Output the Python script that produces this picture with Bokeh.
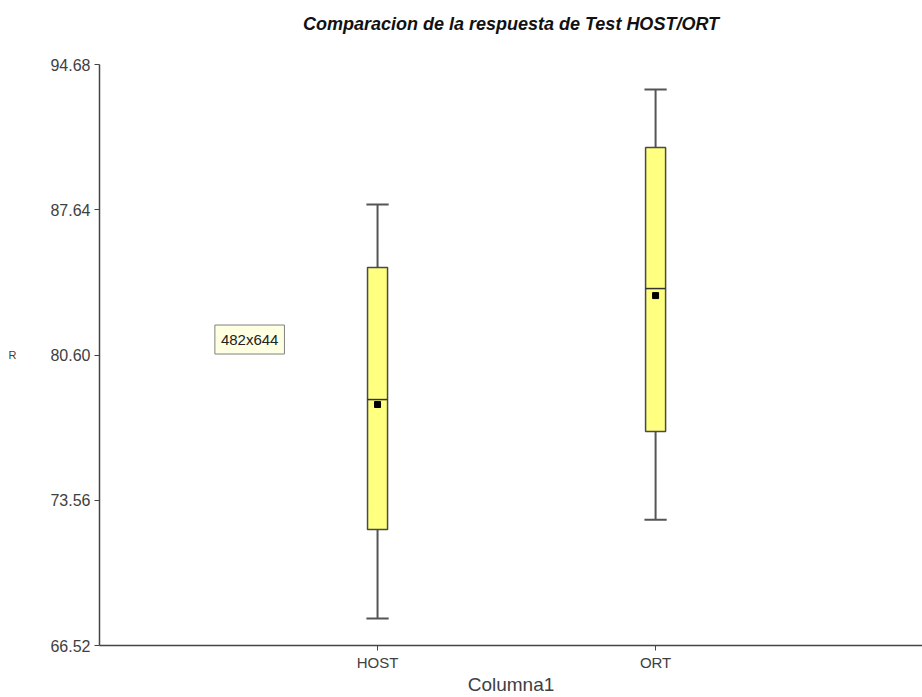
from bokeh.plotting import figure
from bokeh.models import Range1d, FixedTicker, ColumnDataSource, Label, LinearAxis
from bokeh.embed import file_html
from bokeh.resources import INLINE

title_text = "Comparacion de la respuesta de Test HOST/ORT"
x_label = "Columna1"
y_label = "R"
categories = ["HOST", "ORT"]
lower = [67.83, 72.62]
q1 = [72.14, 76.89]
median = [78.44, 83.82]
q3 = [84.84, 90.66]
upper = [87.89, 93.47]
mean = [78.20, 83.48]
y_ticks = [66.52, 73.56, 80.60, 87.64, 94.68]

xs = [i + 1 for i in range(len(categories))]
src = ColumnDataSource(dict(x=xs, lower=lower, q1=q1, median=median, q3=q3, upper=upper, mean=mean))

FONT = "Liberation Sans"
p = figure(width=922, height=697, output_backend="svg", toolbar_location=None,
           x_range=Range1d(0, 2.96), y_range=Range1d(y_ticks[0], y_ticks[-1]),
           min_border_left=99, min_border_right=0, min_border_top=64, min_border_bottom=52)
p.outline_line_color = None
p.xgrid.visible = False
p.ygrid.visible = False

# whiskers
w_kw = dict(line_color="#555555", line_width=2)
p.segment(x0="x", y0="q3", x1="x", y1="upper", source=src, **w_kw)
p.segment(x0="x", y0="lower", x1="x", y1="q1", source=src, **w_kw)
cap = 0.04
p.segment(x0=[x - cap for x in xs], y0=upper, x1=[x + cap for x in xs], y1=upper, **w_kw)
p.segment(x0=[x - cap for x in xs], y0=lower, x1=[x + cap for x in xs], y1=lower, **w_kw)

# boxes
p.vbar(x="x", bottom="q1", top="q3", width=0.072, source=src,
       fill_color="#ffff80", line_color="#4a4a4a", line_width=1.5)
p.segment(x0=[x - 0.036 for x in xs], y0=median, x1=[x + 0.036 for x in xs], y1=median,
          line_color="#333333", line_width=1.5)
p.scatter(x="x", y="mean", source=src, marker="square", size=6, fill_color="black", line_color="black")

# axes
p.yaxis.ticker = FixedTicker(ticks=y_ticks)
p.yaxis.major_label_overrides = {t: f"{t:.2f}" for t in y_ticks}
p.xaxis.ticker = FixedTicker(ticks=xs)
p.xaxis.major_label_overrides = {x: c for x, c in zip(xs, categories)}
for ax in (p.xaxis, p.yaxis):
    ax.minor_tick_line_color = None
    ax.major_tick_in = 0
    ax.major_tick_out = 5
    ax.axis_line_color = "#444444"
    ax.axis_line_width = 1.5
    ax.major_tick_line_color = "#444444"
    ax.major_label_text_font = FONT
    ax.major_label_text_color = "#404040"
    ax.axis_label_text_font = FONT
    ax.axis_label_text_font_style = "normal"
    ax.axis_label_text_color = "#404040"
p.xaxis.major_label_text_font_size = "15px"
p.yaxis.major_label_text_font_size = "16px"
p.xaxis.major_label_standoff = 3
p.xaxis.axis_label = x_label
p.xaxis.axis_label_text_font_size = "19px"
p.xaxis.axis_label_standoff = 0
p.yaxis.axis_label = y_label
p.yaxis.axis_label_orientation = "horizontal"
p.yaxis.axis_label_text_font_size = "11px"
p.yaxis.major_label_standoff = 4
p.yaxis.axis_label_standoff = 31

# chart title, carried by a bare axis above the frame
top = LinearAxis(ticker=FixedTicker(ticks=[]), axis_line_color=None,
                 major_tick_line_color=None, minor_tick_line_color=None,
                 major_tick_out=0, major_tick_in=0, minor_tick_out=0,
                 axis_label=title_text, axis_label_standoff=31,
                 axis_label_text_font=FONT, axis_label_text_font_style="bold italic",
                 axis_label_text_font_size="18px", axis_label_text_color="#111111")
p.add_layout(top, "above")

tip = Label(x=0.415, y=81.35, text="482x644", text_font=FONT, text_font_size="15px",
            text_color="#222222", text_baseline="middle",
            background_fill_color="#ffffe1", border_line_color="#808080",
            padding=6)
p.add_layout(tip)

open("out.html", "w").write(file_html(p, INLINE))
